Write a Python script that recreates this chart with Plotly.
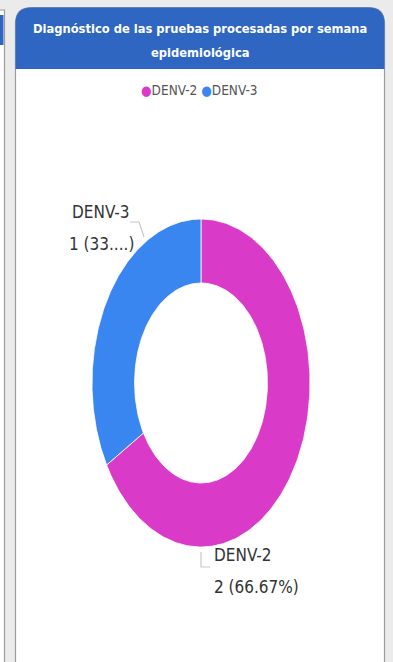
import numpy as np
import plotly.graph_objects as go

# Data
categories = ["DENV-2", "DENV-3"]
counts = [2, 1]
colors = ["#D93AC8", "#3A86F0"]
title_lines = ["Diagnóstico de las pruebas procesadas por semana", "epidemiológica"]

W, H = 393, 662
NARROW = "DejaVu Sans Condensed, Liberation Sans Narrow, sans-serif"

# Donut geometry (drawn in pixel-like axis units)
cx, cy = 201, 383
rx_out, ry_out = 109, 164
hole = 0.61

total = sum(counts)
fracs = [c / total for c in counts]

fig = go.Figure()

start = 0.0
for name, cnt, frac, col in zip(categories, counts, fracs, colors):
    end = start + frac * 2 * np.pi
    t = np.linspace(start, end, 240)
    xo = cx + rx_out * np.sin(t)
    yo = cy - ry_out * np.cos(t)
    xi = cx + rx_out * hole * np.sin(t[::-1])
    yi = cy - ry_out * hole * np.cos(t[::-1])
    xs = np.concatenate([xo, xi, xo[:1]])
    ys = np.concatenate([yo, yi, yo[:1]])
    fig.add_trace(go.Scatter(
        x=xs, y=ys, mode="lines", fill="toself",
        fillcolor=col, line=dict(color="white", width=0.8),
        name=name, showlegend=False, hoveron="fills",
        text=f"{name}: {cnt} ({frac*100:.2f}%)", hoverinfo="text",
    ))
    start = end


def label_text(cnt, frac, maxlen=None):
    s = f"{cnt} ({frac*100:.2f}%)"
    if maxlen is not None and len(s) > maxlen:
        s = s[:maxlen] + "...)"
    return s


# Background card pieces
shapes = []
r = 16
L, R, T, B = 15.5, 384.5, 7.5, 672
card_path = (f"M {L},{B} L {L},{T+r} Q {L},{T} {L+r},{T} L {R-r},{T} "
             f"Q {R},{T} {R},{T+r} L {R},{B} Z")
shapes.append(dict(type="path", path=card_path, xref="x", yref="y",
                   fillcolor="white", line=dict(color="#9c9c9c", width=1.2), layer="below"))
HB = 69
head_path = (f"M {L},{HB} L {L},{T+r} Q {L},{T} {L+r},{T} L {R-r},{T} "
             f"Q {R},{T} {R},{T+r} L {R},{HB} Z")
shapes.append(dict(type="path", path=head_path, xref="x", yref="y",
                   fillcolor="#2E66C2", line=dict(width=0), layer="below"))
# neighbouring card edge on the left
shapes.append(dict(type="rect", x0=-2, x1=4.5, y0=10, y1=700, xref="x", yref="y",
                   fillcolor="white", line=dict(color="#9c9c9c", width=1.2), layer="below"))
shapes.append(dict(type="rect", x0=-2, x1=3.5, y0=15, y1=45, xref="x", yref="y",
                   fillcolor="#2E66C2", line=dict(width=0), layer="below"))

# Leader lines
shapes.append(dict(type="path", path="M 130,222 L 139,222 L 144,237", xref="x", yref="y",
                   line=dict(color="#c8c8c8", width=1.2)))
shapes.append(dict(type="path", path="M 201,552 L 201,567 L 210,567", xref="x", yref="y",
                   line=dict(color="#c8c8c8", width=1.2)))

annotations = []
for i, line in enumerate(title_lines):
    annotations.append(dict(x=200, y=[28, 52][i], xref="x", yref="y", text=f"<b>{line}</b>",
                            showarrow=False, xanchor="center", yanchor="middle",
                            font=dict(family=NARROW, size=12.8, color="white")))

# Legend row
legend_html = " ".join(
    f"<span style='color:{c}'>●</span>{n}" for n, c in zip(categories, colors)
)
annotations.append(dict(x=199, y=90, xref="x", yref="y", text=legend_html, showarrow=False,
                        xanchor="center", yanchor="middle",
                        font=dict(family=NARROW, size=13.5, color="#555555")))

# Data labels
lab_font = dict(family=NARROW, size=17, color="#333333")
annotations += [
    dict(x=70, y=212, xref="x", yref="y", text=categories[1], showarrow=False,
         xanchor="left", yanchor="middle", font=lab_font),
    dict(x=67, y=244, xref="x", yref="y", text=label_text(counts[1], fracs[1], 6),
         showarrow=False, xanchor="left", yanchor="middle", font=lab_font),
    dict(x=212, y=555, xref="x", yref="y", text=categories[0], showarrow=False,
         xanchor="left", yanchor="middle", font=lab_font),
    dict(x=212, y=587, xref="x", yref="y", text=label_text(counts[0], fracs[0]),
         showarrow=False, xanchor="left", yanchor="middle", font=lab_font),
]

fig.update_layout(
    width=W, height=H,
    margin=dict(l=0, r=0, t=0, b=0),
    paper_bgcolor="#EBEBEB", plot_bgcolor="rgba(0,0,0,0)",
    xaxis=dict(range=[0, W], visible=False, fixedrange=True),
    yaxis=dict(range=[H, 0], visible=False, fixedrange=True),
    shapes=shapes, annotations=annotations, showlegend=False,
)

fig.write_html("out.html", config={"displayModeBar": False})
